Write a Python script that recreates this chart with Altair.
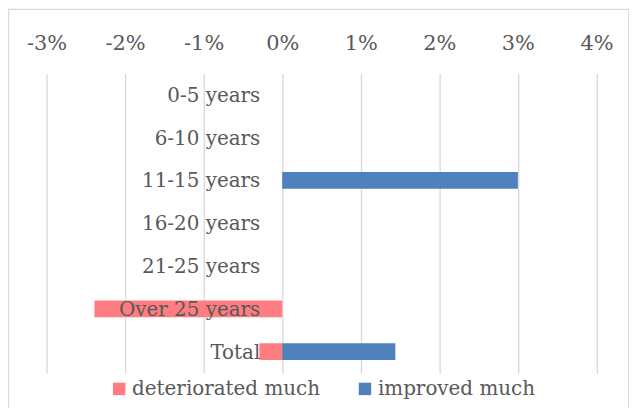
import altair as alt
import pandas as pd

categories = ["0-5 years", "6-10 years", "11-15 years", "16-20 years",
              "21-25 years", "Over 25 years", "Total"]
deteriorated_much = [0.0, 0.0, 0.0, 0.0, 0.0, -0.0239, -0.0029]
improved_much = [0.0, 0.0, 0.030, 0.0, 0.0, 0.0, 0.0144]
series = ["deteriorated much", "improved much"]
colors = ["#FF7C80", "#4F81BD"]
x_ticks = [-0.03, -0.02, -0.01, 0.0, 0.01, 0.02, 0.03, 0.04]

rows = []
for c, d, i in zip(categories, deteriorated_much, improved_much):
    rows.append({"category": c, "series": series[0], "value": d})
    rows.append({"category": c, "series": series[1], "value": i})
bars_df = pd.DataFrame(rows)
labels_df = pd.DataFrame({"category": categories, "zero": [0.0] * len(categories)})

FONT = "DejaVu Serif"
GREY = "#595959"

x_scale = alt.Scale(domain=[-0.03, 0.04], nice=False, zero=False)
y_scale = alt.Scale(domain=categories, paddingInner=0.61, paddingOuter=0.305)

bars = alt.Chart(bars_df).mark_bar().encode(
    x=alt.X("value:Q", scale=x_scale, stack=None,
            axis=alt.Axis(orient="top", values=x_ticks, title=None,
                          labelExpr="(datum.value < 0 ? '-' : '') + format(abs(datum.value), '.0%')",
                          domain=False, ticks=False, labelPadding=20,
                          labelFlush=False, labelOverlap=False,
                          labelFont=FONT, labelFontSize=21, labelColor=GREY,
                          grid=True, gridColor="#D9D9D9", gridWidth=1.3)),
    y=alt.Y("category:N", scale=y_scale, axis=None),
    color=alt.Color("series:N", scale=alt.Scale(domain=series, range=colors),
                    legend=alt.Legend(orient="none", legendX=63, legendY=307,
                                      direction="horizontal", title=None,
                                      symbolType="square", symbolSize=156,
                                      symbolStrokeWidth=0, labelFont=FONT,
                                      labelFontSize=20, labelColor=GREY,
                                      labelLimit=400,
                                      labelOffset=3, columnPadding=35, padding=0)),
)

labels = alt.Chart(labels_df).mark_text(
    align="right", baseline="middle", dx=-22, dy=1,
    font=FONT, fontSize=20, color=GREY
).encode(
    x=alt.X("zero:Q", scale=x_scale),
    y=alt.Y("category:N", scale=y_scale, axis=None),
    text="category:N",
)

border = alt.Chart(alt.Data(values=[{"a": 1}])).mark_rect(
    fillOpacity=0, stroke="#D9D9D9", strokeWidth=1.3
).encode(
    x=alt.value(-38.2), x2=alt.value(585),
    y=alt.value(-64.3), y2=alt.value(345),
)

chart = alt.layer(bars, labels, border).properties(
    width=552.6, height=301,
    autosize=alt.AutoSizeParams(type="none"),
    padding={"left": 38.7, "top": 64.8, "right": 32.7, "bottom": 34.2},
    background="white",
).configure_view(strokeWidth=0)

chart.save("out.html", embed_options={"renderer": "svg", "actions": False})
